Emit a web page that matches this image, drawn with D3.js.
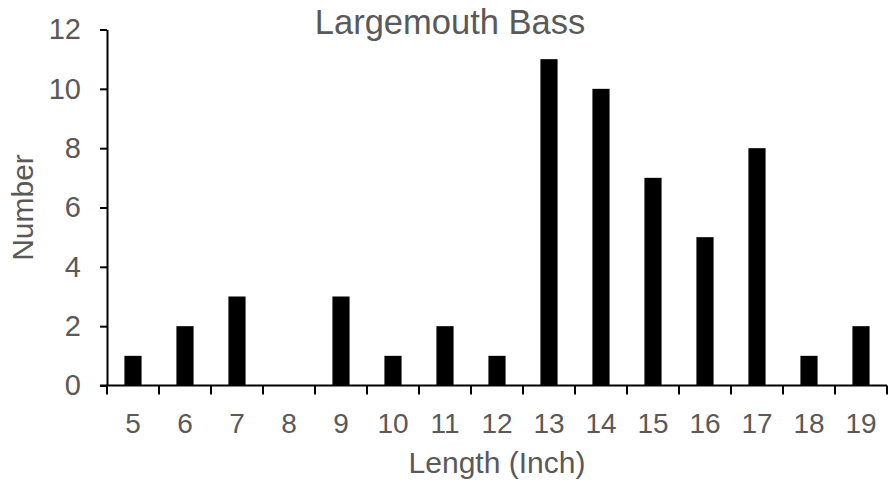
<!DOCTYPE html>
<html>
<head>
<meta charset="utf-8">
<script src="https://cdn.jsdelivr.net/npm/d3@7"></script>
<style>
  html, body { margin: 0; padding: 0; background: #fff; }
  svg { display: block; font-family: "Liberation Sans", Arial, sans-serif; }
</style>
</head>
<body>
<svg id="chart" width="888" height="487"></svg>
<script>
const categories = ["5","6","7","8","9","10","11","12","13","14","15","16","17","18","19"];
const counts = [1, 2, 3, 0, 3, 1, 2, 1, 11, 10, 7, 5, 8, 1, 2];
const yTicks = [0, 2, 4, 6, 8, 10, 12];
const title = "Largemouth Bass";
const xTitle = "Length (Inch)";
const yTitle = "Number";

const svg = d3.select("#chart");
const mLeft = 107, mRight = 887, mTop = 29.5, mBottom = 385.5;
const textColor = "#595959";

const x = d3.scaleBand().domain(categories).range([mLeft, mRight])
  .paddingInner(0.67).paddingOuter(0.335);
const xEdge = d3.scaleLinear().domain([0, categories.length]).range([mLeft, mRight]);
const y = d3.scaleLinear().domain([0, 12]).range([mBottom, mTop]);

// bars
svg.append("g").selectAll("rect")
  .data(categories.map((c, i) => ({c, v: counts[i]})))
  .join("rect")
  .attr("x", d => x(d.c))
  .attr("width", x.bandwidth())
  .attr("y", d => y(d.v))
  .attr("height", d => y(0) - y(d.v))
  .attr("fill", "#000");

// y axis
const yAxis = svg.append("g").attr("transform", `translate(${mLeft},0)`)
  .call(d3.axisLeft(y).tickValues(yTicks).tickSize(7).tickPadding(19).tickSizeOuter(0));
yAxis.select(".domain").attr("stroke", "#000").attr("stroke-width", 2);
yAxis.selectAll(".tick line").attr("stroke", "#000").attr("stroke-width", 2);
yAxis.selectAll(".tick text").attr("fill", textColor).style("font-size", "29px");

// x axis line
svg.append("line")
  .attr("x1", mLeft - 7).attr("x2", mRight)
  .attr("y1", y(0)).attr("y2", y(0))
  .attr("stroke", "#000").attr("stroke-width", 2);

// x tick marks at band edges
svg.append("g").selectAll("line")
  .data(d3.range(0, categories.length + 1))
  .join("line")
  .attr("x1", d => xEdge(d)).attr("x2", d => xEdge(d))
  .attr("y1", y(0)).attr("y2", y(0) + 9)
  .attr("stroke", "#000").attr("stroke-width", 2);

// x tick labels
svg.append("g").selectAll("text")
  .data(categories)
  .join("text")
  .attr("x", d => x(d) + x.bandwidth() / 2)
  .attr("y", 433)
  .attr("text-anchor", "middle")
  .attr("fill", textColor)
  .style("font-size", "28px")
  .text(d => d);

// titles
svg.append("text")
  .attr("x", 450).attr("y", 34)
  .attr("text-anchor", "middle")
  .attr("fill", textColor)
  .style("font-size", "34.5px")
  .text(title);

svg.append("text")
  .attr("x", (mLeft + mRight) / 2).attr("y", 473)
  .attr("text-anchor", "middle")
  .attr("fill", textColor)
  .style("font-size", "30px")
  .text(xTitle);

svg.append("text")
  .attr("transform", `translate(33,${(mTop + mBottom) / 2}) rotate(-90)`)
  .attr("text-anchor", "middle")
  .attr("fill", textColor)
  .style("font-size", "30px")
  .text(yTitle);
</script>
</body>
</html>
